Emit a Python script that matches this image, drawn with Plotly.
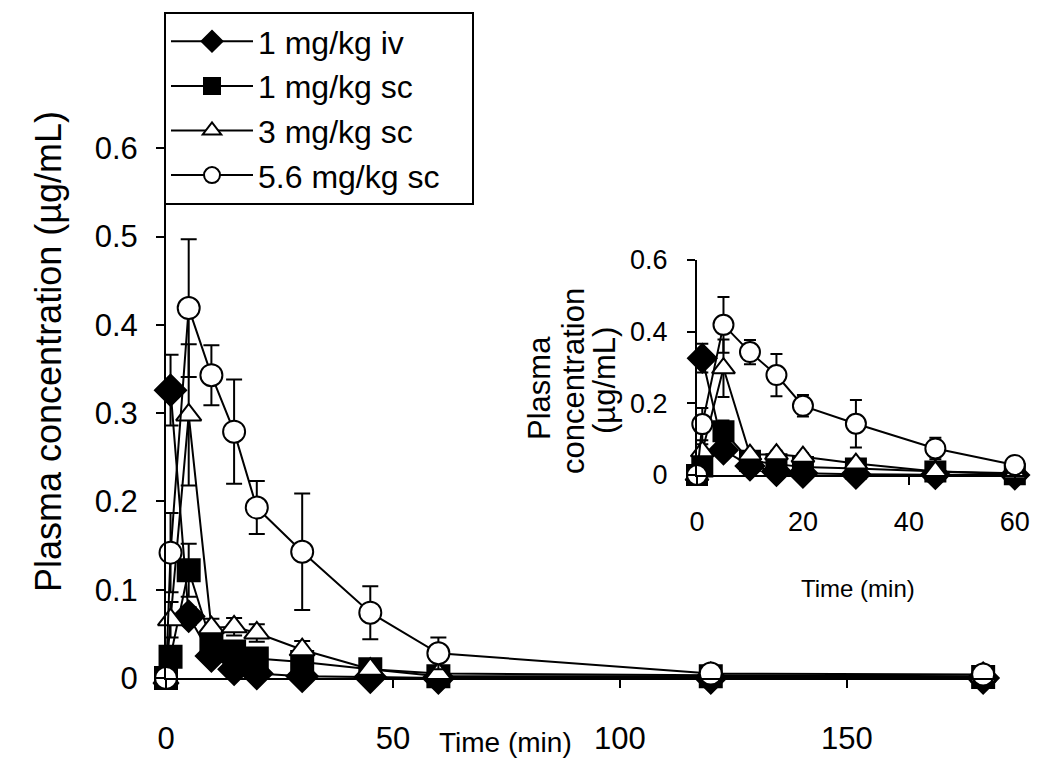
import plotly.graph_objects as go

# ---------------- data ----------------
time_min = [0, 1, 5, 10, 15, 20, 30, 45, 60, 120, 180]

iv_1 = [None, 0.326, 0.070, 0.025, 0.010, 0.005, 0.002, 0.001, 0.000, 0.000, 0.000]
iv_1_err = [0, 0.040, 0.010, 0.005, 0, 0, 0, 0, 0, 0, 0]

sc_1 = [0.000, 0.024, 0.122, 0.040, 0.030, 0.022, 0.018, 0.010, 0.002, 0.002, 0.001]
sc_1_err = [0, 0.010, 0.030, 0.010, 0.005, 0.005, 0.005, 0, 0, 0, 0]

sc_3 = [0.000, 0.066, 0.298, 0.057, 0.058, 0.051, 0.032, 0.010, 0.005, 0.003, 0.002]
sc_3_err = [0, 0.020, 0.080, 0.010, 0.010, 0.010, 0.010, 0.005, 0, 0, 0]

sc_56 = [0.000, 0.142, 0.419, 0.343, 0.279, 0.193, 0.143, 0.074, 0.028, 0.005, 0.004]
sc_56_err = [0, 0.045, 0.078, 0.034, 0.059, 0.030, 0.066, 0.030, 0.018, 0, 0]

series_names = ["1 mg/kg iv", "1 mg/kg sc", "3 mg/kg sc", "5.6 mg/kg sc\u00a0\u00a0\u00a0"]
series_values = [iv_1, sc_1, sc_3, sc_56]
series_errors = [iv_1_err, sc_1_err, sc_3_err, sc_56_err]
series_symbols = ["diamond", "square", "triangle-up", "circle"]
series_fills = ["black", "black", "white", "white"]

main_y_ticks = [0, 0.1, 0.2, 0.3, 0.4, 0.5, 0.6]
main_y_text = ["0", "0.1", "0.2", "0.3", "0.4", "0.5", "0.6"]
main_x_ticks = [0, 50, 100, 150]
inset_y_ticks = [0, 0.2, 0.4, 0.6]
inset_y_text = ["0", "0.2", "0.4", "0.6"]
inset_x_ticks = [0, 20, 40, 60]
inset_max_time = 60

# ---------------- layout geometry ----------------
# the page body adds an 8px offset; layout is expressed in page pixels
OFF = 8
W, H = 1050 - OFF, 783 - OFF
PLOT_L, PLOT_T, PLOT_B, PLOT_R = 166, 60, 678, 1030   # page pixels
L, T = PLOT_L - OFF, PLOT_T - OFF
B = H - (PLOT_B - OFF)
R = W - (PLOT_R - OFF)
PW, PH = PLOT_R - PLOT_L, PLOT_B - PLOT_T


def px(xp):
    return (xp - PLOT_L) / PW


def py(yp):
    return (PLOT_B - yp) / PH


ARIAL = "Liberation Sans, Arial, sans-serif"

fig = go.Figure()

for name, vals, errs, sym, fill in zip(series_names, series_values, series_errors,
                                       series_symbols, series_fills):
    fig.add_trace(go.Scatter(
        x=time_min, y=vals, name=name, mode="lines+markers",
        line=dict(color="black", width=2),
        marker=dict(symbol=sym, size=22 if sym != "diamond" else 24, color=fill,
                    line=dict(color="black", width=2)),
        error_y=dict(type="data", array=errs, visible=True, color="black",
                     thickness=2, width=8),
        cliponaxis=False, xaxis="x", yaxis="y",
    ))

for name, vals, errs, sym, fill in zip(series_names, series_values, series_errors,
                                       series_symbols, series_fills):
    idx = [i for i, t in enumerate(time_min) if t <= inset_max_time]
    fig.add_trace(go.Scatter(
        x=[time_min[i] for i in idx], y=[vals[i] for i in idx], name=name,
        mode="lines+markers", showlegend=False,
        line=dict(color="black", width=2),
        marker=dict(symbol=sym, size=20 if sym != "diamond" else 22, color=fill,
                    line=dict(color="black", width=2)),
        error_y=dict(type="data", array=[errs[i] for i in idx], visible=True,
                     color="black", thickness=2, width=6),
        cliponaxis=False, xaxis="x2", yaxis="y2",
    ))

axis_common = dict(showline=True, linecolor="black", linewidth=2, showgrid=False,
                   zeroline=False, ticks="outside", tickcolor="black", tickwidth=2,
                   ticklen=8, automargin=False)

fig.update_layout(
    width=W, height=H,
    margin=dict(l=L, r=R, t=T, b=B, pad=0, autoexpand=False),
    paper_bgcolor="white", plot_bgcolor="rgba(0,0,0,0)",
    showlegend=True,
    xaxis=dict(domain=[0, px(994.5)], range=[0, 182.5], tickvals=main_x_ticks,
               tickfont=dict(family=ARIAL, size=31, color="black"),
               ticklabelstandoff=24, **axis_common),
    yaxis=dict(domain=[0, 1], range=[0, 0.7], tickvals=main_y_ticks, ticktext=main_y_text,
               tickfont=dict(family=ARIAL, size=31, color="black"),
               ticklabelstandoff=12, **axis_common),
    xaxis2=dict(domain=[px(697), px(1027)], range=[0, 62.3], anchor="y2",
                tickvals=inset_x_ticks,
                tickfont=dict(family=ARIAL, size=27, color="black"),
                ticklabelstandoff=14, **axis_common),
    yaxis2=dict(domain=[py(475), py(260)], range=[0, 0.6], anchor="x2",
                tickvals=inset_y_ticks, ticktext=inset_y_text,
                tickfont=dict(family=ARIAL, size=27, color="black"),
                ticklabelstandoff=14, **axis_common),
    legend=dict(x=px(164), y=py(12), xanchor="left", yanchor="top",
                bgcolor="white", bordercolor="black", borderwidth=2,
                font=dict(family=ARIAL, size=32, color="black"),
                itemwidth=82, tracegroupgap=0),
)

annotations = [
    dict(text="Time (min)", x=px(505), y=py(742), font=dict(family=ARIAL, size=28)),
    dict(text="Time (min)", x=px(858), y=py(588), font=dict(family=ARIAL, size=24)),
    dict(text="Plasma concentration (µg/mL)", x=px(48), y=py(352), textangle=-90,
         font=dict(family=ARIAL, size=36)),
    dict(text="Plasma", x=px(539), y=py(388), textangle=-90, font=dict(family=ARIAL, size=31)),
    dict(text="concentration", x=px(573), y=py(381), textangle=-90, font=dict(family=ARIAL, size=31)),
    dict(text="(µg/mL)", x=px(604), y=py(381), textangle=-90, font=dict(family=ARIAL, size=31)),
]
for a in annotations:
    a["font"]["color"] = "black"
    fig.add_annotation(xref="paper", yref="paper", showarrow=False,
                       xanchor="center", yanchor="middle", **a)

fig.write_html("out.html")
